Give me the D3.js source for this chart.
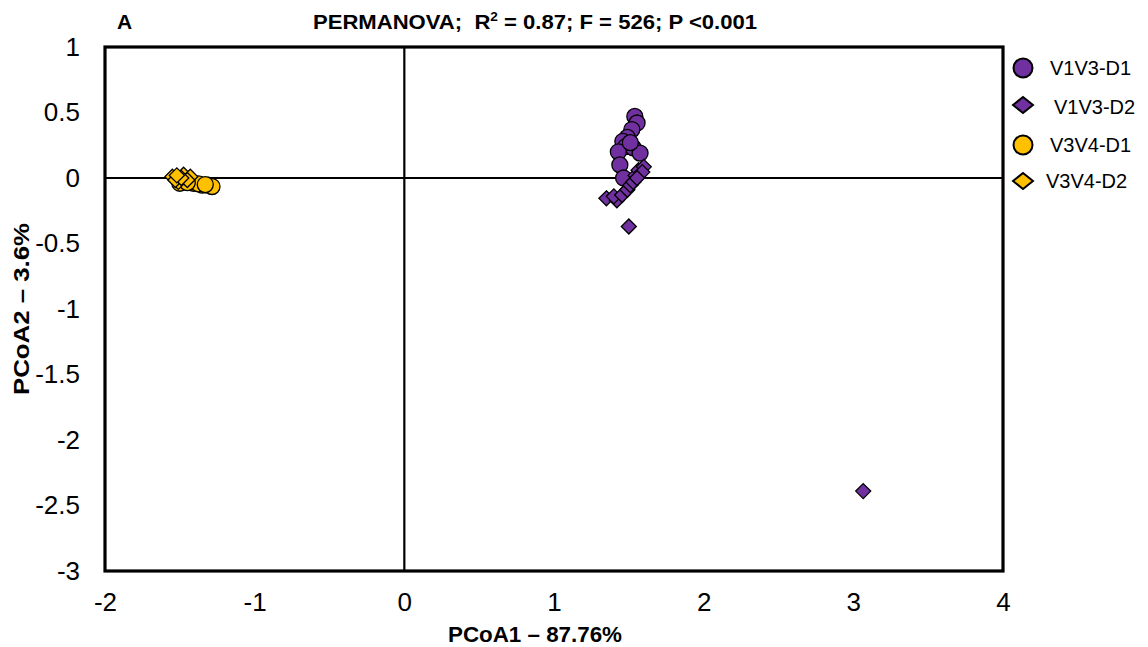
<!DOCTYPE html>
<html>
<head>
<meta charset="utf-8">
<script src="https://cdn.jsdelivr.net/npm/d3@7"></script>
<style>
  body { margin: 0; background: #fff; }
  svg { display: block; font-family: Arial, "Liberation Sans", sans-serif; }
</style>
</head>
<body>
<svg id="chart" width="1148" height="647"></svg>
<script>
// PCoA ordination scores (PCoA1, PCoA2) per group
const v1v3D1 = [
  [1.54, 0.47], [1.555, 0.42], [1.52, 0.37], [1.49, 0.31], [1.46, 0.28],
  [1.48, 0.24], [1.53, 0.23], [1.43, 0.20], [1.575, 0.19], [1.44, 0.10],
  [1.465, 0.0], [1.51, 0.27]
];
const v1v3D2 = [
  [1.35, -0.155], [1.42, -0.17], [1.40, -0.14], [1.455, -0.13], [1.49, -0.09],
  [1.51, -0.055], [1.53, -0.03], [1.545, 0.02], [1.565, 0.06], [1.60, 0.085],
  [1.59, 0.045], [1.555, 0.0], [1.50, -0.37], [3.066, -2.39]
];
const v3v4D1 = [
  [-1.41, -0.04], [-1.35, -0.055], [-1.31, -0.055], [-1.285, -0.065], [-1.375, -0.045],
  [-1.50, -0.04], [-1.45, -0.035], [-1.33, -0.05]
];
const v3v4D2 = [
  [-1.55, 0.01], [-1.51, -0.03], [-1.475, 0.025], [-1.43, 0.01], [-1.45, -0.015],
  [-1.53, -0.015], [-1.49, 0.0], [-1.52, 0.02]
];

const seriesNames = ["V1V3-D1", "V1V3-D2", "V3V4-D1", "V3V4-D2"];
const seriesData = [v1v3D1, v1v3D2, v3v4D1, v3v4D2];
const seriesColors = ["#7030A0", "#7030A0", "#FFC000", "#FFC000"];
const seriesShapes = ["circle", "diamond", "circle", "diamond"];

const xTicks = [-2, -1, 0, 1, 2, 3, 4];
const yTicks = [1, 0.5, 0, -0.5, -1, -1.5, -2, -2.5, -3];

const svg = d3.select("#chart");
const plot = { left: 105, right: 1003, top: 47, bottom: 571 };

const x = d3.scaleLinear().domain([-2, 4]).range([plot.left, plot.right]);
const y = d3.scaleLinear().domain([-3, 1]).range([plot.bottom, plot.top]);

// zero reference lines
svg.append("line")
  .attr("x1", x(0)).attr("x2", x(0)).attr("y1", plot.top).attr("y2", plot.bottom)
  .attr("stroke", "#000").attr("stroke-width", 2.2);
svg.append("line")
  .attr("x1", plot.left).attr("x2", plot.right).attr("y1", y(0)).attr("y2", y(0))
  .attr("stroke", "#000").attr("stroke-width", 2.2);

// axes (labels only, plain hyphen for negatives)
const xAxis = svg.append("g")
  .attr("transform", `translate(0,${plot.bottom})`)
  .call(d3.axisBottom(x).tickValues(xTicks).tickSize(0).tickPadding(22).tickFormat(d => String(d)));
const yAxis = svg.append("g")
  .attr("transform", `translate(${plot.left},0)`)
  .call(d3.axisLeft(y).tickValues(yTicks).tickSize(0).tickPadding(25).tickFormat(d => String(d)));
[xAxis, yAxis].forEach(g => {
  g.attr("font-size", null).attr("font-family", null);
  g.select(".domain").remove();
  g.selectAll("text").style("font-size", "26px").attr("fill", "#000")
    .style("font-family", "Arial, 'Liberation Sans', sans-serif");
});

// points
const diamond = s => `M0,${-s}L${s},0L0,${s}L${-s},0Z`;
seriesData.forEach((pts, i) => {
  const g = svg.append("g");
  if (seriesShapes[i] === "circle") {
    g.selectAll("circle").data(pts).join("circle")
      .attr("cx", d => x(d[0])).attr("cy", d => y(d[1])).attr("r", 8)
      .attr("fill", seriesColors[i]).attr("stroke", "#000").attr("stroke-width", 1.3);
  } else {
    g.selectAll("path").data(pts).join("path")
      .attr("d", diamond(7.5))
      .attr("transform", d => `translate(${x(d[0])},${y(d[1])})`)
      .attr("fill", seriesColors[i]).attr("stroke", "#000").attr("stroke-width", 1.3);
  }
});

// plot frame
svg.append("rect")
  .attr("x", plot.left).attr("y", plot.top)
  .attr("width", plot.right - plot.left).attr("height", plot.bottom - plot.top)
  .attr("fill", "none").attr("stroke", "#000").attr("stroke-width", 3.2);

// legend
const legendRows = [
  { cy: 68, ty: 75, tx: 1050 },
  { cy: 105, ty: 114, tx: 1054 },
  { cy: 145, ty: 152, tx: 1050 },
  { cy: 181, ty: 188, tx: 1046 }
];
seriesNames.forEach((name, i) => {
  const row = legendRows[i];
  if (seriesShapes[i] === "circle") {
    svg.append("circle").attr("cx", 1023).attr("cy", row.cy).attr("r", 9.5)
      .attr("fill", seriesColors[i]).attr("stroke", "#000").attr("stroke-width", 2);
  } else {
    svg.append("path")
      .attr("d", `M0,-8L10,0L0,8L-10,0Z`)
      .attr("transform", `translate(1023,${row.cy})`)
      .attr("fill", seriesColors[i]).attr("stroke", "#000").attr("stroke-width", 2);
  }
  svg.append("text").attr("x", row.tx).attr("y", row.ty)
    .style("font-size", "20px").attr("fill", "#000").text(name);
});

// titles
svg.append("text").attr("x", 117).attr("y", 29)
  .style("font-size", "21px").attr("font-weight", "bold").text("A");
const title = svg.append("text").attr("x", 313).attr("y", 29)
  .style("font-size", "21px").attr("font-weight", "bold")
  .attr("textLength", 444).attr("lengthAdjust", "spacingAndGlyphs");
title.append("tspan").text("PERMANOVA;\u00a0 R");
title.append("tspan").style("font-size", "13px").attr("dy", -8).text("2");
title.append("tspan").attr("dy", 8).text(" = 0.87; F = 526; P <0.001");

svg.append("text").attr("x", 448).attr("y", 642)
  .style("font-size", "22px").attr("font-weight", "bold")
  .attr("textLength", 174).attr("lengthAdjust", "spacingAndGlyphs")
  .text("PCoA1 \u2013 87.76%");

svg.append("text")
  .attr("transform", "translate(29,395) rotate(-90)")
  .style("font-size", "22px").attr("font-weight", "bold")
  .attr("textLength", 172).attr("lengthAdjust", "spacingAndGlyphs")
  .text("PCoA2 \u2013 3.6%");
</script>
</body>
</html>
